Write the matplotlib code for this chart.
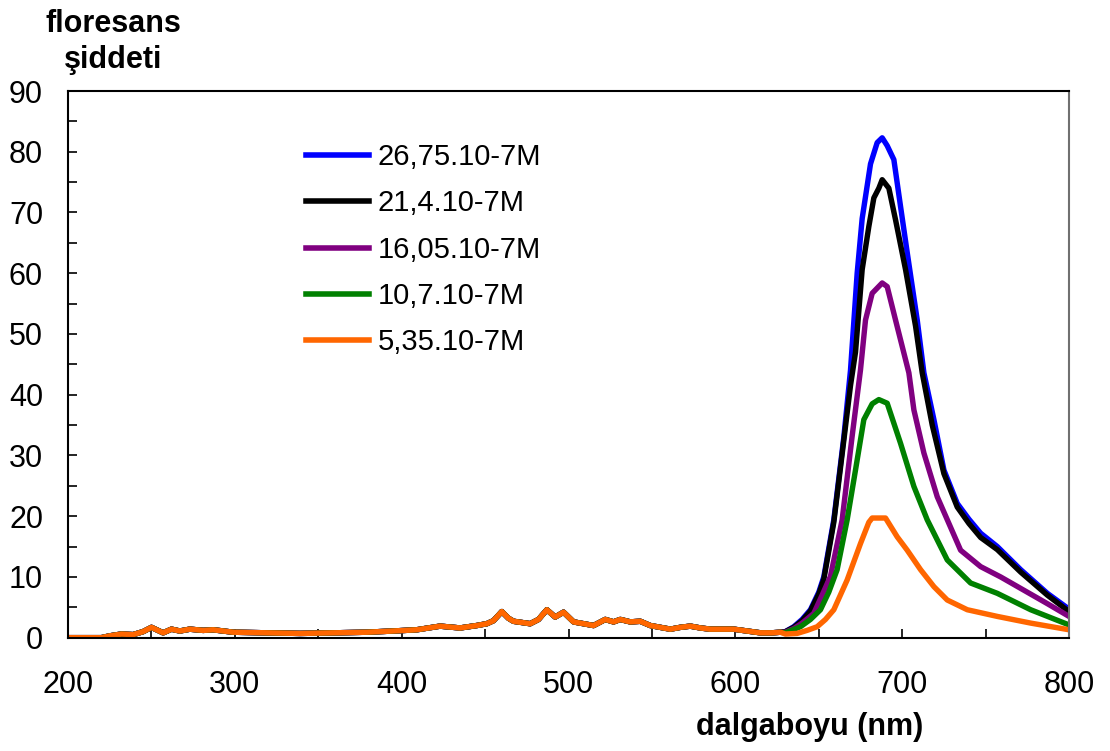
import matplotlib
matplotlib.use("Agg")
import matplotlib.pyplot as plt
import numpy as np

plt.rcParams["font.family"] = ["Liberation Sans", "DejaVu Sans"]

# common baseline (all five spectra overlap below ~625 nm)
base_wl = [200, 220, 225, 232, 239, 245, 250, 257, 262, 267, 273, 281, 287, 299, 319,
           339, 360, 379, 395, 409, 423, 435, 445, 451, 455, 460, 464, 467, 477, 482,
           487, 492, 497, 503, 509, 515, 522, 527, 531, 537, 543, 549, 555, 561, 567,
           573, 579, 585, 599, 607, 615, 622, 627]
base_val = [0, 0, 0.3, 0.6, 0.5, 1.0, 1.7, 0.8, 1.4, 1.1, 1.4, 1.2, 1.3, 0.9, 0.8,
            0.7, 0.8, 0.9, 1.1, 1.3, 1.9, 1.6, 2.0, 2.3, 2.8, 4.3, 3.2, 2.7, 2.3, 3.0,
            4.6, 3.4, 4.2, 2.6, 2.3, 2.0, 3.0, 2.6, 3.0, 2.6, 2.7, 2.0, 1.7, 1.4, 1.7,
            1.9, 1.6, 1.4, 1.4, 1.1, 0.8, 0.8, 0.9]

# peak region, per concentration
wl_26 = [630, 635, 640, 645, 650, 653, 659, 665, 669, 673, 676, 681, 685, 688, 691, 695,
         699, 703, 709, 713, 719, 725, 733, 740, 747, 757, 771, 787, 800]
val_26 = [1.0, 1.8, 3.0, 4.6, 7.5, 10, 19.4, 33, 44, 60, 69, 78, 81.5, 82.3, 81, 78.7,
          71, 63.4, 52.3, 43.6, 35.9, 27.6, 22.1, 19.5, 17.2, 15, 11.2, 7.3, 4.7]

wl_21 = [630, 635, 640, 645, 650, 653, 659, 665, 669, 672, 676, 680, 683, 686, 688, 692,
         696, 702, 708, 712, 718, 725, 733, 740, 747, 757, 771, 787, 800]
val_21 = [1.0, 1.7, 2.8, 4.4, 7.2, 9.6, 19, 32.5, 41.5, 47, 60.6, 67.7, 72.4, 74, 75.4, 74,
          68.8, 60.6, 51.3, 43.6, 35, 27, 21.5, 18.8, 16.5, 14.5, 10.8, 7.0, 4.3]

wl_16 = [630, 635, 640, 647, 652, 657, 664, 670, 675, 678, 682, 688, 691, 696, 704, 707,
         713, 721, 735, 747, 759, 773, 787, 800]
val_16 = [0.9, 1.5, 2.4, 4.0, 7, 10.1, 19.4, 33.2, 44.1, 52.3, 56.7, 58.4, 57.8, 52.3,
          43.6, 37.5, 30.4, 23.2, 14.4, 11.7, 10.0, 7.8, 5.6, 3.5]

wl_10 = [630, 639, 645, 651, 656, 661, 667, 672, 677, 682, 686, 691, 699, 707, 715, 727,
         741, 757, 777, 800]
val_10 = [0.8, 1.8, 3, 4.6, 7.5, 11.2, 19.4, 27.6, 35.9, 38.5, 39.2, 38.6, 32, 24.9, 19.4,
          12.8, 9.0, 7.3, 4.6, 2.1]

wl_5 = [630, 637, 643, 649, 654, 659, 667, 675, 680, 682, 690, 697, 703, 711, 719, 727,
        739, 757, 777, 800]
val_5 = [0.6, 0.7, 1.2, 1.8, 3, 4.6, 9.5, 15.5, 19, 19.7, 19.7, 16.6, 14.4, 11.2, 8.4, 6.2,
         4.6, 3.5, 2.4, 1.3]

labels = ["26,75.10-7M", "21,4.10-7M", "16,05.10-7M", "10,7.10-7M", "5,35.10-7M"]
colors = ["#0000ff", "#000000", "#800080", "#008000", "#ff6600"]
peaks = [(wl_26, val_26), (wl_21, val_21), (wl_16, val_16), (wl_10, val_10), (wl_5, val_5)]

fig = plt.figure(figsize=(11.1, 7.51), dpi=100)
ax = fig.add_axes([0.0613, 0.1509, 0.9018, 0.7279])

for (w, v), lab, c in zip(peaks, labels, colors):
    x = np.array(base_wl + w)
    y = np.array(base_val + v)
    ax.plot(x, y, color=c, lw=3.9, label=lab)

ax.set_xlim(200, 800)
ax.set_ylim(0, 90)
ax.set_xticks(np.arange(200, 801, 100))
ax.set_xticks(np.arange(250, 800, 100), minor=True)
ax.set_yticks(np.arange(0, 91, 10))
ax.set_yticks(np.arange(5, 90, 10), minor=True)
ax.tick_params(axis="both", which="both", direction="in", length=6.5, width=1.2,
               top=False, right=False, labelsize=22)
ax.tick_params(axis="y", which="major", pad=18)
ax.tick_params(axis="x", which="major", pad=23)

for s in ["left", "bottom", "top"]:
    ax.spines[s].set_linewidth(1.5)
    ax.spines[s].set_color("black")
ax.spines["right"].set_color("#707070")
ax.spines["right"].set_linewidth(1.5)

fig.text(113 / 1110, 1 - 42 / 751, "floresans\nşiddeti", ha="center", va="center",
         fontsize=22, fontweight="bold", linespacing=1.25)
fig.text(923 / 1110, 1 - 727 / 751, "dalgaboyu (nm)", ha="right", va="center",
         fontsize=22, fontweight="bold")

leg = ax.legend(loc="upper left", bbox_to_anchor=(306 / 1110, 1 - 143 / 751),
                bbox_transform=fig.transFigure, frameon=False, fontsize=21,
                handlelength=2.15, handletextpad=0.3, labelspacing=0.63,
                borderpad=0, borderaxespad=0)
for h in leg.get_lines():
    h.set_linewidth(4)

plt.savefig("out.png", dpi=100)
